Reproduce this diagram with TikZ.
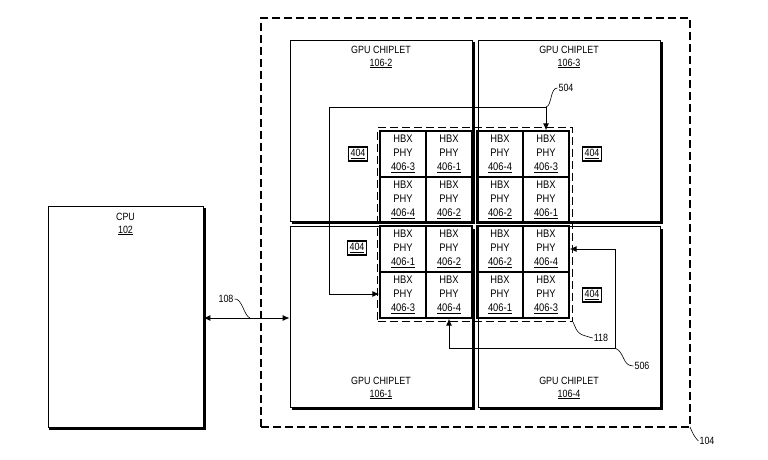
\documentclass[tikz,border=0pt]{standalone}
\usepackage{fontspec}
\setmainfont{Liberation Sans}[FakeStretch=0.85]
\usetikzlibrary{arrows.meta}
\begin{document}
\begin{tikzpicture}[x=1pt,y=-1pt,
  box/.style={draw,line width=0.8pt,fill=white},
  cell/.style={draw,line width=1.2pt,minimum width=46pt,minimum height=46pt,inner sep=0pt,align=center,font=\fontsize{11}{14}\selectfont},
  lbl/.style={font=\fontsize{10.5}{12}\selectfont,inner sep=1pt},
  tag/.style={draw,line width=1.6pt,inner sep=2pt,font=\fontsize{10.5}{12}\selectfont},
  conn/.style={line width=1pt},
  arr/.style={line width=1pt,-{Latex[length=7pt,width=6pt]}},
  lead/.style={line width=0.6pt}]
\useasboundingbox (0,0) rectangle (768,460);
% outer dashed
\node[draw,line width=1.2pt,dash pattern=on 8pt off 4pt,minimum width=429pt,minimum height=409pt,inner sep=0pt] (pkg) at (475.5,222.5) {};
\coordinate (pkgc) at (690,427);
\node[lbl] (l104) at (707,441) {104};
\draw[lead] (pkgc) .. controls (694,436) .. (l104.west);
% CPU
\draw[line width=2pt] (50,208) -- (50,429) -- (205,429) -- (205,208);
\node[box,minimum width=155pt,minimum height=221pt,inner sep=0pt] (cpu) at (125.5,316.5) {};
\node[lbl,align=center] (cput) at (125.5,224) {CPU\\[1pt]\underline{102}};
% chiplets
\foreach \n/\cx/\cy in {c2/381/130.5,c3/569/130.5,c1/381/316.5,c4/569/316.5}{
  \draw[line width=2pt] (\cx-89,\cy+92) -- (\cx+93,\cy+92) -- (\cx+93,\cy-88);
  \node[box,minimum width=182pt,minimum height=181pt,inner sep=0pt] (\n) at (\cx,\cy) {};
}
\node[lbl,align=center] (t2) at (381,57) {GPU CHIPLET\\[1pt]\underline{106-2}};
\node[lbl,align=center] (t3) at (569,57) {GPU CHIPLET\\[1pt]\underline{106-3}};
\node[lbl,align=center] (t1) at (381,388) {GPU CHIPLET\\[1pt]\underline{106-1}};
\node[lbl,align=center] (t4) at (569,388) {GPU CHIPLET\\[1pt]\underline{106-4}};
% CPU link
\draw[line width=1pt,{Latex[length=7pt,width=6pt]}-{Latex[length=7pt,width=6pt]}] (cpu.east |- 0,318) -- (c1.west |- 0,318);
\node[lbl] (l108) at (226,299) {108};
\coordinate (p108) at (250,318);
\draw[lead] (l108.east) .. controls (242,298) and (244,316) .. (p108);
% dashed 118
\node[draw,line width=1.2pt,dash pattern=on 8pt off 4pt,minimum width=195pt,minimum height=194pt,inner sep=0pt] (d118) at (475,224.5) {};
\node[lbl] (l118) at (601,338) {118};
\draw[lead] (d118.south east) .. controls (578,334) .. (l118.west);
% cells
\foreach \n/\x/\y/\t in {
 a/403/154/406-3, b/449/154/406-1, c/500/154/406-4, d/546/154/406-3,
 e/403/200/406-4, f/449/200/406-2, g/500/200/406-2, h/546/200/406-1,
 i/403/249/406-1, j/449/249/406-2, k/500/249/406-2, l/546/249/406-4,
 m/403/295/406-3, n/449/295/406-4, o/500/295/406-1, p/546/295/406-3}{
 \node[cell] (\n) at (\x,\y) {HBX\\PHY\\\underline{\t}};
}
% 404 tags
\node[tag] (g1) at (358,154) {\underline{404}};
\node[tag] (g2) at (592,154) {\underline{404}};
\node[tag] (g3) at (357,248) {\underline{404}};
\node[tag] (g4) at (592,295) {\underline{404}};
% 504
\coordinate (q1) at (329,107);
\coordinate (q2) at (546,107);
\coordinate (q3) at (329,294);
\draw[arr] (q2) -- (q1) -- (q3) -- (m.west |- q3);
\draw[arr] (q2) -- (d.north);
\node[lbl] (l504) at (566,88) {504};
\draw[lead] (q2) .. controls (552,106) and (550,88) .. (l504.west);
% 506
\coordinate (r1) at (615,249);
\coordinate (r2) at (615,348);
\coordinate (r3) at (449,348);
\draw[arr] (r1) -- (r2) -- (r3) -- (n.south);
\draw[arr] (r1) -- (l.east |- r1);
\node[lbl] (l506) at (642,366) {506};
\draw[lead] (r2) .. controls (625,352) and (622,366) .. (l506.west);
\end{tikzpicture}
\end{document}
